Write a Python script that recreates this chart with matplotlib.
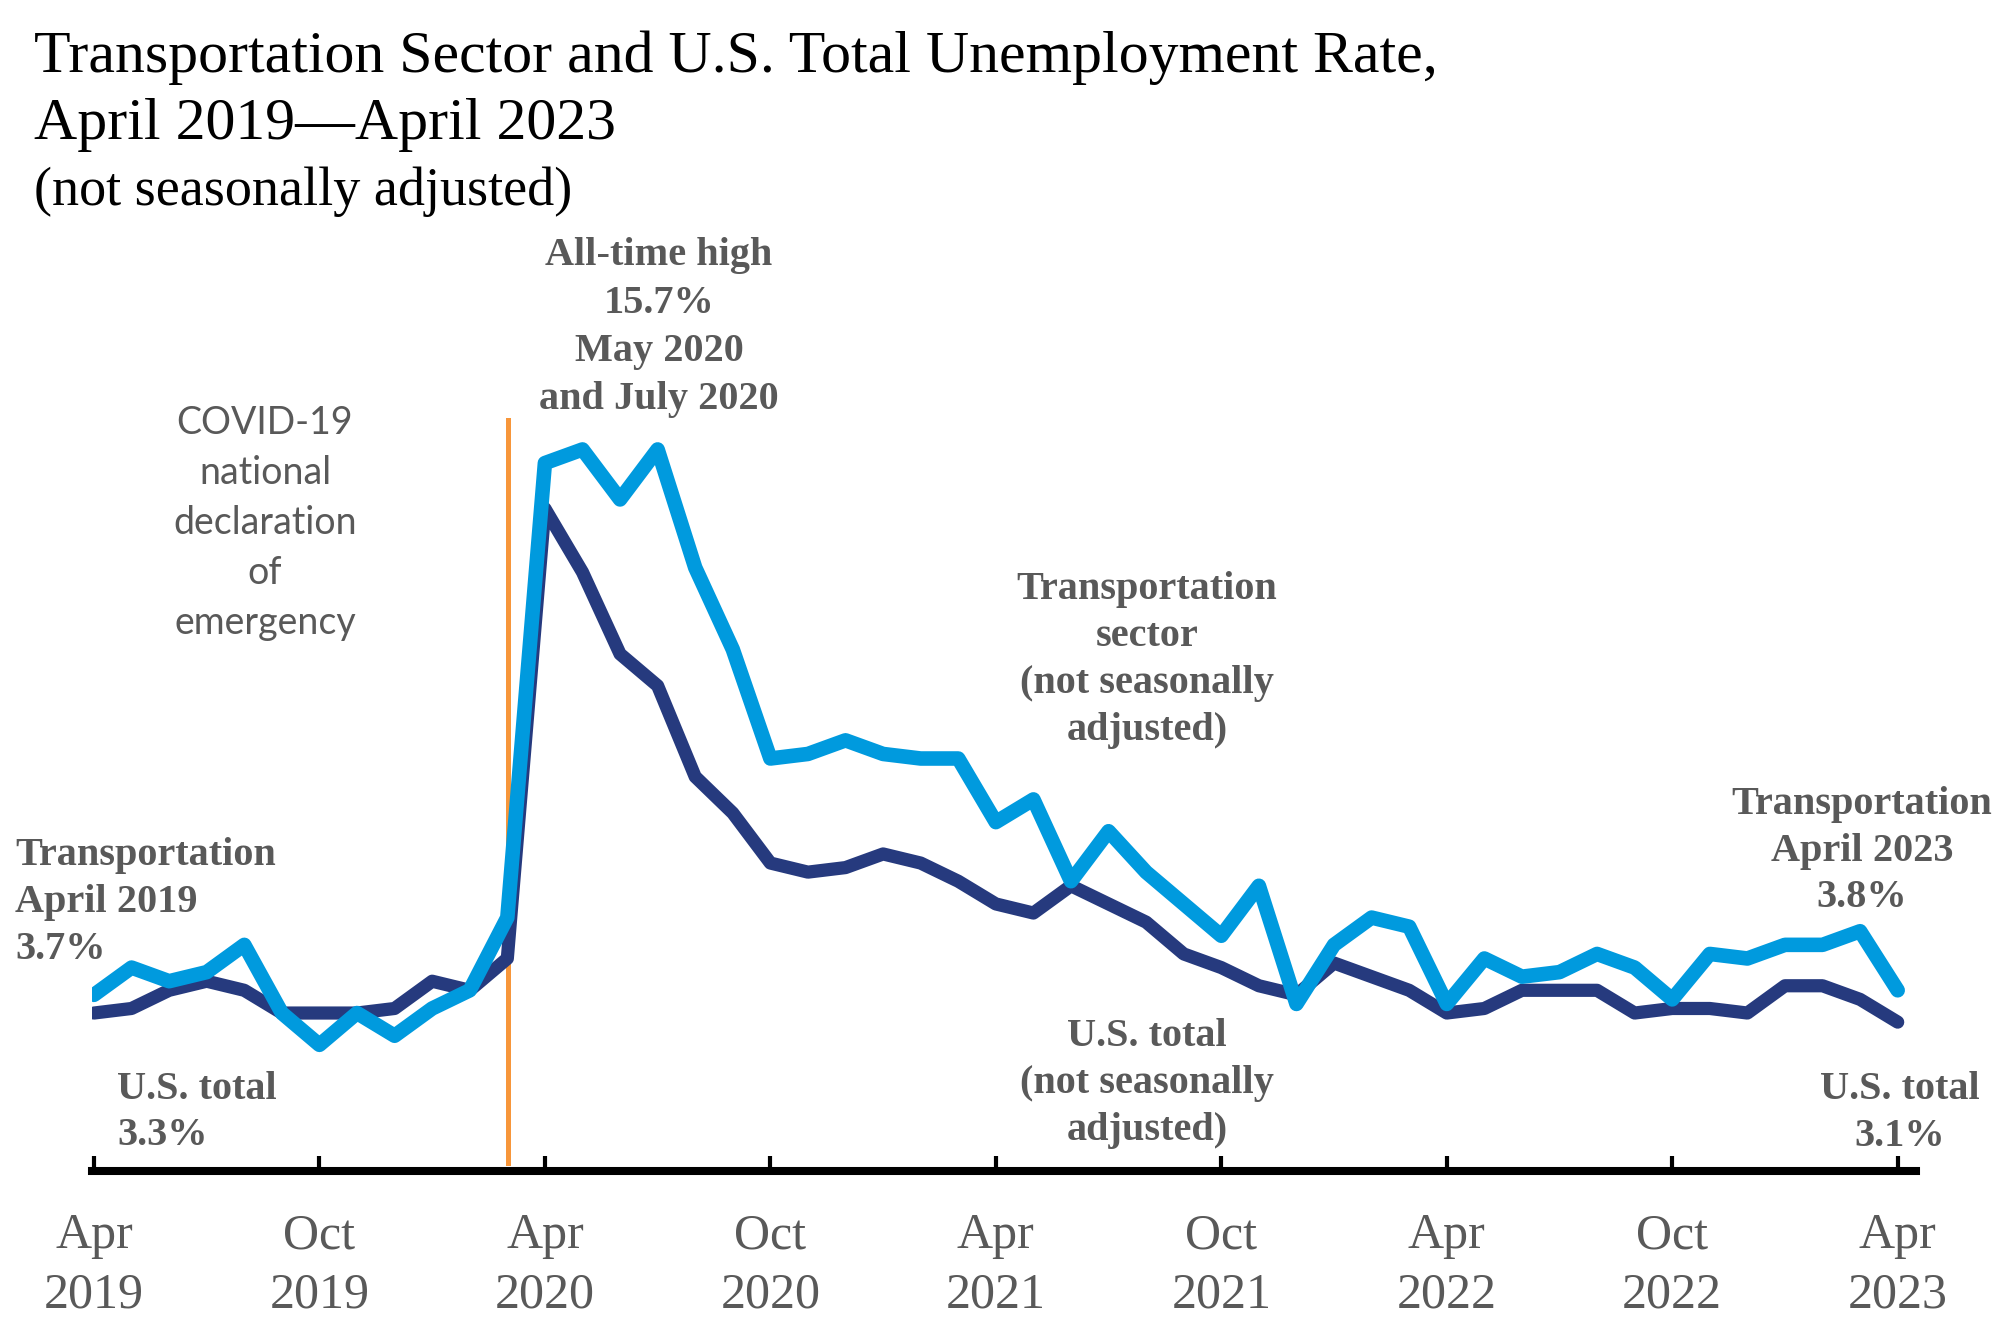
import matplotlib
matplotlib.use("Agg")
import matplotlib.pyplot as plt
import numpy as np

# monthly rates, April 2019 .. April 2023 (not seasonally adjusted)
transport = [3.7, 4.3, 4.0, 4.2, 4.8, 3.3, 2.6, 3.3, 2.8, 3.4, 3.8, 5.4,
             15.4, 15.7, 14.6, 15.7, 13.1, 11.3, 8.9, 9.0, 9.3, 9.0, 8.9, 8.9,
             7.5, 8.0, 6.2, 7.3, 6.4, 5.7, 5.0, 6.1, 3.5, 4.8, 5.4, 5.2,
             3.5, 4.5, 4.1, 4.2, 4.6, 4.3, 3.6, 4.6, 4.5, 4.8, 4.8, 5.1, 3.8]
us_total = [3.3, 3.4, 3.8, 4.0, 3.8, 3.3, 3.3, 3.3, 3.4, 4.0, 3.8, 4.5,
            14.4, 13.0, 11.2, 10.5, 8.5, 7.7, 6.6, 6.4, 6.5, 6.8, 6.6, 6.2,
            5.7, 5.5, 6.1, 5.7, 5.3, 4.6, 4.3, 3.9, 3.7, 4.4, 4.1, 3.8,
            3.3, 3.4, 3.8, 3.8, 3.8, 3.3, 3.4, 3.4, 3.3, 3.9, 3.9, 3.6, 3.1]
months = np.arange(len(transport))

tick_pos = [0, 6, 12, 18, 24, 30, 36, 42, 48]
tick_labels = ["Apr\n2019", "Oct\n2019", "Apr\n2020", "Oct\n2020", "Apr\n2021",
               "Oct\n2021", "Apr\n2022", "Oct\n2022", "Apr\n2023"]

covid_x = 11.03      # national emergency declared, March 2020
covid_top = 16.35

light_blue = "#009ADE"
navy = "#263A7E"
orange = "#F7963A"
grey = "#595959"

W, H = 2013, 1330
fig = plt.figure(figsize=(W / 100, H / 100), dpi=100)
ax = fig.add_axes([0.04575, 0.1194, 0.9063, 0.5871])

ax.plot([covid_x, covid_x], [0, covid_top], color=orange, lw=3.6, zorder=1,
        clip_on=False)
ax.plot(months, us_total, color=navy, lw=9.5, solid_joinstyle="round",
        solid_capstyle="round", zorder=2)
ax.plot(months, transport, color=light_blue, lw=10.5, solid_joinstyle="round",
        solid_capstyle="round", zorder=3)

ax.set_xlim(-0.05, 48.5)
ax.set_ylim(-0.18, 17.0)
for s in ["left", "top", "right"]:
    ax.spines[s].set_visible(False)
ax.spines["bottom"].set_linewidth(5.8)
ax.spines["bottom"].set_color("black")
ax.set_yticks([])
ax.set_xticks(tick_pos)
ax.set_xticklabels(tick_labels, fontfamily="Liberation Serif", fontsize=36,
                   color=grey, linespacing=1.36)
ax.tick_params(axis="x", direction="in", length=11, width=3, color="black",
               pad=30)


def stack(lines, x, y0, step, ha, **kw):
    for k, s in enumerate(lines):
        fig.text(x / W, 1 - (y0 + k * step) / H, s, ha=ha, va="baseline", **kw)


title_kw = dict(fontfamily="Liberation Serif", color="black")
fig.text(34 / W, 1 - 72 / H,
         "Transportation Sector and U.S. Total Unemployment Rate,",
         fontsize=43, **title_kw)
fig.text(34 / W, 1 - 139 / H, "April 2019\u2014April 2023", fontsize=43,
         **title_kw)
fig.text(34 / W, 1 - 205 / H, "(not seasonally adjusted)", fontsize=39,
         **title_kw)

bold = dict(fontfamily="Liberation Serif", fontsize=29, fontweight="bold",
            color=grey)
stack(["Transportation", "April 2019", "3.7%"], 15, 865, 47, "left", **bold)
stack(["U.S. total", "3.3%"], 117, 1099, 46, "left", **bold)
stack(["All-time high", "15.7%", "May 2020", "and July 2020"], 659, 265, 48,
      "center", **bold)
stack(["Transportation", "sector", "(not seasonally", "adjusted)"], 1147, 599,
      47, "center", **bold)
stack(["U.S. total", "(not seasonally", "adjusted)"], 1147, 1046, 47,
      "center", **bold)
stack(["Transportation", "April 2023", "3.8%"], 1862, 814, 46.5, "center",
      **bold)
stack(["U.S. total", "3.1%"], 1900, 1099, 47, "center", **bold)

stack(["COVID-19", "national", "declaration", "of", "emergency"], 265, 434, 50,
      "center", fontfamily="Lato", fontsize=27, color=grey)

fig.savefig("out.png", dpi=100)
